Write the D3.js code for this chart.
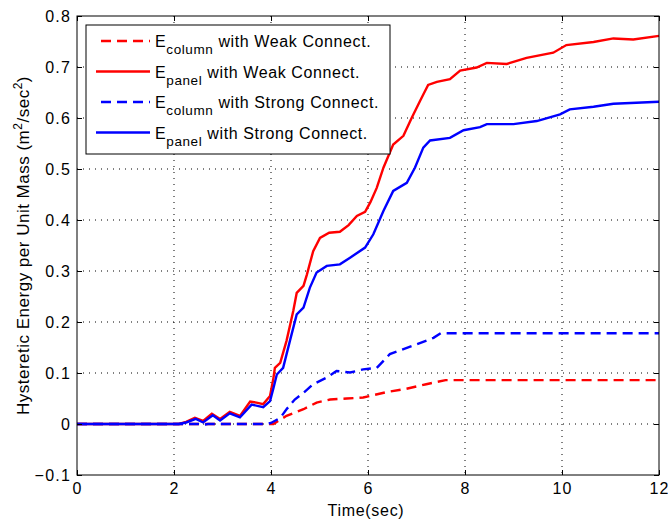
<!DOCTYPE html>
<html>
<head>
<meta charset="utf-8">
<script src="https://cdn.jsdelivr.net/npm/d3@7"></script>
<style>
  body { margin: 0; background: #fff; }
  svg { font-family: "Liberation Sans", Arial, sans-serif; }
</style>
</head>
<body>
<svg width="668" height="525"></svg>
<script>
// values: [time (sec), energy (m^2/sec^2)]
const panelWeak = [
  [0, 0], [2.1, 0], [2.25, 0.004], [2.43, 0.012], [2.6, 0.006], [2.78, 0.02], [2.95, 0.01],
  [3.15, 0.024], [3.36, 0.016], [3.57, 0.044], [3.7, 0.042], [3.84, 0.039], [3.98, 0.055],
  [4.05, 0.09], [4.08, 0.11], [4.19, 0.12], [4.32, 0.163], [4.46, 0.222], [4.53, 0.257],
  [4.67, 0.271], [4.74, 0.293], [4.87, 0.339], [5.01, 0.365], [5.2, 0.375], [5.42, 0.377],
  [5.6, 0.39], [5.77, 0.408], [5.94, 0.416], [6.05, 0.435], [6.18, 0.463], [6.32, 0.503],
  [6.52, 0.548], [6.73, 0.565], [6.9, 0.6], [7.07, 0.633], [7.14, 0.646], [7.24, 0.665],
  [7.42, 0.671], [7.69, 0.676], [7.9, 0.693], [8.24, 0.699], [8.45, 0.708], [8.86, 0.706],
  [9.27, 0.718], [9.82, 0.728], [10.09, 0.743], [10.65, 0.749], [11.06, 0.756],
  [11.47, 0.754], [12, 0.761]
];
const panelStrong = [
  [0, 0], [2.1, 0], [2.25, 0.003], [2.45, 0.01], [2.6, 0.003], [2.8, 0.017], [2.95, 0.007],
  [3.15, 0.021], [3.36, 0.013], [3.6, 0.038], [3.84, 0.033], [3.98, 0.045], [4.05, 0.07],
  [4.12, 0.097], [4.25, 0.11], [4.39, 0.163], [4.53, 0.215], [4.67, 0.228], [4.8, 0.267],
  [4.94, 0.297], [5.15, 0.31], [5.42, 0.313], [5.63, 0.326], [5.94, 0.346], [6.11, 0.372],
  [6.32, 0.418], [6.52, 0.457], [6.8, 0.473], [6.97, 0.503], [7.14, 0.542], [7.28, 0.556],
  [7.69, 0.561], [7.97, 0.576], [8.31, 0.582], [8.45, 0.588], [9.0, 0.588], [9.48, 0.594],
  [9.96, 0.607], [10.16, 0.617], [10.65, 0.622], [11.06, 0.628], [12, 0.632]
];
const columnStrong = [
  [0, 0], [2.5, 0], [2.6, -0.002], [2.7, 0], [3.9, 0], [4.0, 0.002], [4.19, 0.012],
  [4.32, 0.029], [4.49, 0.048], [4.67, 0.061], [4.87, 0.078], [5.15, 0.091], [5.35, 0.104],
  [5.63, 0.101], [5.9, 0.107], [6.18, 0.11], [6.45, 0.137], [7.0, 0.156], [7.35, 0.169],
  [7.5, 0.178], [12, 0.178]
];
const columnWeak = [
  [0, 0], [4.05, 0], [4.32, 0.016], [4.67, 0.029], [4.94, 0.042], [5.22, 0.048],
  [5.56, 0.05], [5.9, 0.052], [6.04, 0.055], [6.4, 0.063], [6.79, 0.069], [7.2, 0.078],
  [7.6, 0.086], [12, 0.086]
];
const xTicks = [0, 2, 4, 6, 8, 10, 12];
const yTicks = [-0.1, 0, 0.1, 0.2, 0.3, 0.4, 0.5, 0.6, 0.7, 0.8];
const legendItems = [
  { sub: "column", rest: " with Weak Connect.", color: "#ff0000", dashed: true },
  { sub: "panel", rest: " with Weak Connect.", color: "#ff0000", dashed: false },
  { sub: "column", rest: " with Strong Connect.", color: "#0000ff", dashed: true },
  { sub: "panel", rest: " with Strong Connect.", color: "#0000ff", dashed: false }
];

const svg = d3.select("svg");
const pLeft = 77, pRight = 659, pTop = 16, pBottom = 475;

const x = d3.scaleLinear().domain([0, 12]).range([pLeft, pRight]);
const y = d3.scaleLinear().domain([-0.1, 0.8]).range([pBottom, pTop]);

// dotted grid
const grid = svg.append("g").attr("stroke", "#000").attr("stroke-width", 1)
  .attr("stroke-dasharray", "1,5");
xTicks.slice(1, -1).forEach(function (t) {
  grid.append("line").attr("x1", x(t)).attr("x2", x(t)).attr("y1", pTop).attr("y2", pBottom);
});
yTicks.slice(1, -1).forEach(function (v) {
  grid.append("line").attr("x1", pLeft).attr("x2", pRight).attr("y1", y(v)).attr("y2", y(v));
});

// curves
const line = d3.line().x(d => x(d[0])).y(d => y(d[1]));
function drawSeries(data, color, dashed) {
  svg.append("path")
    .attr("d", line(data))
    .attr("fill", "none")
    .attr("stroke", color)
    .attr("stroke-width", 2.4)
    .attr("stroke-dasharray", dashed ? "10,6" : null);
}
drawSeries(columnWeak, "#ff0000", true);
drawSeries(panelWeak, "#ff0000", false);
drawSeries(columnStrong, "#0000ff", true);
drawSeries(panelStrong, "#0000ff", false);

// axes, ticks inward on all four sides
function styleAxis(g, labels) {
  g.select(".domain").remove();
  g.selectAll(".tick line").attr("stroke", "#000");
  g.selectAll("text").attr("fill", "#000").style("font-size", "16px")
    .style("letter-spacing", "1.2px")
    .style("font-family", '"Liberation Sans", Arial, sans-serif');
  if (!labels) g.selectAll("text").remove();
}
svg.append("g").attr("transform", `translate(0,${pBottom})`)
  .call(d3.axisBottom(x).tickValues(xTicks).tickSize(-5).tickPadding(8).tickFormat(d3.format("d")))
  .call(g => styleAxis(g, true));
svg.append("g").attr("transform", `translate(0,${pTop})`)
  .call(d3.axisTop(x).tickValues(xTicks).tickSize(-5))
  .call(g => styleAxis(g, false));
svg.append("g").attr("transform", `translate(${pLeft},0)`)
  .call(d3.axisLeft(y).tickValues(yTicks).tickSize(-5).tickPadding(6).tickFormat(d => d === 0 ? "0" : d3.format(".1f")(d)))
  .call(g => styleAxis(g, true));
svg.append("g").attr("transform", `translate(${pRight},0)`)
  .call(d3.axisRight(y).tickValues(yTicks).tickSize(-5))
  .call(g => styleAxis(g, false));

svg.append("rect")
  .attr("x", pLeft).attr("y", pTop)
  .attr("width", pRight - pLeft).attr("height", pBottom - pTop)
  .attr("fill", "none").attr("stroke", "#000").attr("stroke-width", 1);

// axis titles
svg.append("text")
  .attr("x", 366).attr("y", 516)
  .attr("text-anchor", "middle").style("font-size", "16px").style("letter-spacing", "0.7px")
  .text("Time(sec)");

const yl = svg.append("text")
  .attr("transform", `translate(29,${(pTop + pBottom) / 2}) rotate(-90)`)
  .attr("text-anchor", "middle").style("font-size", "17px").style("letter-spacing", "0.5px");
yl.append("tspan").text("Hysteretic Energy per Unit Mass (m");
yl.append("tspan").attr("dy", -7).style("font-size", "12px").text("2");
yl.append("tspan").attr("dy", 7).text("/sec");
yl.append("tspan").attr("dy", -7).style("font-size", "12px").text("2");
yl.append("tspan").attr("dy", 7).text(")");

// legend
const lg = svg.append("g");
lg.append("rect")
  .attr("x", 86).attr("y", 25).attr("width", 304).attr("height", 129)
  .attr("fill", "#fff").attr("stroke", "#000").attr("stroke-width", 1);
legendItems.forEach(function (d, i) {
  const cy = 41 + i * 30.5;
  lg.append("line")
    .attr("x1", d.dashed ? 101 : 96).attr("x2", 150)
    .attr("y1", cy).attr("y2", cy)
    .attr("stroke", d.color).attr("stroke-width", 2.4)
    .attr("stroke-dasharray", d.dashed ? "10,6" : null);
  const t = lg.append("text").attr("x", 155).attr("y", cy + 6)
    .style("font-size", "16px").style("letter-spacing", "0.6px");
  t.append("tspan").text("E");
  t.append("tspan").attr("dy", 7).style("font-size", "13.5px").text(d.sub);
  t.append("tspan").attr("dy", -7).text(d.rest);
});
</script>
</body>
</html>
